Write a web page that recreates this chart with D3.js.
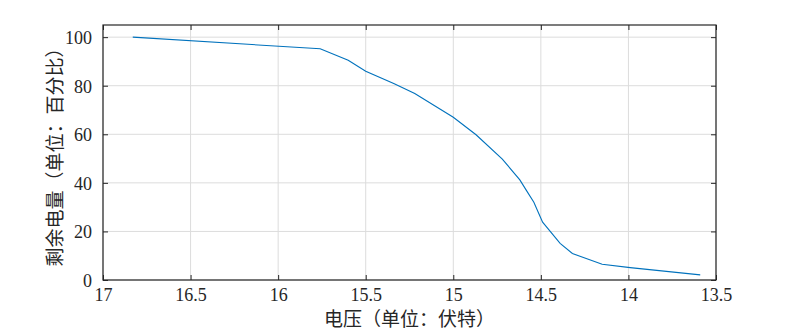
<!DOCTYPE html>
<html>
<head>
  <meta charset="utf-8">
  <title>剩余电量 vs 电压</title>
  <style>
    body { margin: 0; background: #fff; }
    #chart text { fill: #262626; }
    .tick text { font-family: "Liberation Serif", "Noto Sans CJK SC", serif; font-size: 18px; }
    .grid line { stroke: #dcdcdc; stroke-width: 1; }
    .label { font-family: "Noto Sans CJK SC", sans-serif; font-size: 19px; }
  </style>
</head>
<body>
  <div id="chart"></div>
  <script src="https://d3js.org/d3.v7.min.js"></script>
  <script>
    // voltage readings (V) and remaining capacity (%)
    const voltage  = [16.83, 15.76, 15.60, 15.50, 15.34, 15.22, 15.00, 14.87, 14.72, 14.62, 14.58, 14.54, 14.49, 14.39, 14.32, 14.15, 13.99, 13.59];
    const capacity = [100, 95.2, 90.5, 86.0, 80.9, 76.8, 67.0, 59.8, 49.8, 41.2, 36.6, 32.0, 23.8, 15.1, 10.9, 6.5, 5.1, 2.1];
    const xTicks = [17, 16.5, 16, 15.5, 15, 14.5, 14, 13.5];
    const yTicks = [0, 20, 40, 60, 80, 100];

    const points = voltage.map((v, i) => ({ v, c: capacity[i] }));

    const W = 792, H = 330;
    const margin = { top: 25, right: 76, bottom: 50, left: 103 };
    const width = W - margin.left - margin.right;
    const height = H - margin.top - margin.bottom;

    const svg = d3.select("#chart").append("svg")
      .attr("width", W).attr("height", H);
    const g = svg.append("g")
      .attr("transform", "translate(" + margin.left + "," + margin.top + ")");

    // reversed voltage axis, like MATLAB 'XDir','reverse'
    const x = d3.scaleLinear().domain([17, 13.5]).range([0, width]);
    const y = d3.scaleLinear().domain([0, 105]).range([height, 0]);

    // grid
    g.append("g").attr("class", "grid")
      .selectAll("line").data(xTicks).join("line")
      .attr("x1", d => x(d)).attr("x2", d => x(d))
      .attr("y1", 0).attr("y2", height);
    g.append("g").attr("class", "grid")
      .selectAll("line").data(yTicks).join("line")
      .attr("x1", 0).attr("x2", width)
      .attr("y1", d => y(d)).attr("y2", d => y(d));

    // line
    const line = d3.line().x(d => x(d.v)).y(d => y(d.c));
    g.append("path").datum(points)
      .attr("fill", "none")
      .attr("stroke", "#0072BD")
      .attr("stroke-width", 1.1)
      .attr("d", line);

    const fmt = d => String(d);

    // axes, ticks pointing inward
    const xb = g.append("g").attr("transform", "translate(0," + height + ")")
      .call(d3.axisBottom(x).tickValues(xTicks).tickFormat(fmt).tickSizeInner(-5).tickSizeOuter(0).tickPadding(8));
    const xt = g.append("g")
      .call(d3.axisTop(x).tickValues(xTicks).tickFormat("").tickSizeInner(-5).tickSizeOuter(0));
    const yl = g.append("g")
      .call(d3.axisLeft(y).tickValues(yTicks).tickFormat(fmt).tickSizeInner(-5).tickSizeOuter(0).tickPadding(11));
    const yr = g.append("g").attr("transform", "translate(" + width + ",0)")
      .call(d3.axisRight(y).tickValues(yTicks).tickFormat("").tickSizeInner(-5).tickSizeOuter(0));

    [xb, xt, yl, yr].forEach(a => {
      a.select(".domain").remove();
      a.selectAll(".tick line").attr("stroke", "#262626");
    });
    xb.selectAll(".tick text").attr("font-family", null).attr("font-size", null);
    yl.selectAll(".tick text").attr("font-family", null).attr("font-size", null).attr("dy", "0.35em");

    // box
    g.append("rect")
      .attr("width", width).attr("height", height)
      .attr("fill", "none").attr("stroke", "#262626").attr("stroke-width", 1.2);

    // labels
    g.append("text").attr("class", "label")
      .attr("x", width / 2).attr("y", height + 46)
      .attr("text-anchor", "middle")
      .text("电压（单位：伏特）");
    g.append("text").attr("class", "label")
      .attr("transform", "translate(" + (-41) + "," + (height / 2) + ") rotate(-90)")
      .attr("text-anchor", "middle")
      .text("剩余电量（单位：百分比）");
  </script>
</body>
</html>
